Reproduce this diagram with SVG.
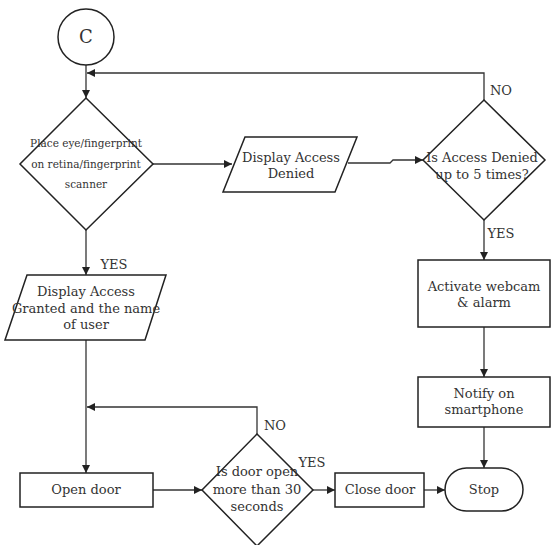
<svg xmlns="http://www.w3.org/2000/svg" width="551" height="545" viewBox="0 0 551 545">
<defs>
<marker id="ah" viewBox="0 0 10 10" refX="10" refY="5" markerWidth="8" markerHeight="8" markerUnits="userSpaceOnUse" orient="auto">
<path d="M0,0 L10,5 L0,10 z" fill="#222"/>
</marker>
</defs>
<style>
.n{fill:#fff;stroke:#222;stroke-width:1.5}
.c{fill:none;stroke:#333;stroke-width:1.3;marker-end:url(#ah)}
.l{fill:none;stroke:#333;stroke-width:1.3}
text{font-family:"DejaVu Serif","Liberation Serif",serif;font-size:13px;fill:#333;text-anchor:middle}
.s{font-size:10.5px}
</style>
<rect width="551" height="545" fill="#fff"/>
<g id="connectors">
<path class="c" d="M86,65 V98"/>
<path class="c" d="M484,100 V73 H87"/>
<path class="c" d="M153,164 H232"/>
<path class="c" d="M348,163 H390 L393,160 H423"/>
<path class="c" d="M484,220 V260"/>
<path class="c" d="M484,327 V377"/>
<path class="c" d="M484,427 V468"/>
<path class="c" d="M86,230 V275"/>
<path class="c" d="M86,340 V473"/>
<path class="c" d="M257,434 V407 H87"/>
<path class="c" d="M153,490 H202"/>
<path class="c" d="M313,490 H335"/>
<path class="c" d="M424,490 H445"/>
<text x="501" y="95">NO</text>
<text x="501" y="238">YES</text>
<text x="114" y="269">YES</text>
<text x="275" y="430">NO</text>
<text x="312" y="467">YES</text>
</g>
<g id="start">
<circle class="n" cx="86" cy="37" r="28"/>
<text x="86" y="43" style="font-size:18px">C</text>
</g>
<g id="scan">
<polygon class="n" points="86,98 153,164 86,230 20,164"/>
<text class="s" x="86" y="147">Place eye/fingerprint</text>
<text class="s" x="86" y="168">on retina/fingerprint</text>
<text class="s" x="86" y="188">scanner</text>
</g>
<g id="denied">
<polygon class="n" points="245,137 357,137 335,192 223,192"/>
<text x="291" y="162">Display Access</text>
<text x="291" y="178">Denied</text>
</g>
<g id="count">
<polygon class="n" points="484,100 545,160 484,220 423,160"/>
<text x="482" y="162">Is Access Denied</text>
<text x="482" y="179">up to 5 times?</text>
</g>
<g id="webcam">
<rect class="n" x="418" y="260" width="132" height="67"/>
<text x="484" y="291">Activate webcam</text>
<text x="484" y="307">&amp; alarm</text>
</g>
<g id="notify">
<rect class="n" x="418" y="377" width="132" height="50"/>
<text x="484" y="398">Notify on</text>
<text x="484" y="414">smartphone</text>
</g>
<g id="granted">
<polygon class="n" points="27,275 166,275 145,340 5,340"/>
<text x="86" y="296">Display Access</text>
<text x="86" y="313">Granted and the name</text>
<text x="86" y="329">of user</text>
</g>
<g id="open">
<rect class="n" x="20" y="473" width="133" height="34"/>
<text x="86" y="494">Open door</text>
</g>
<g id="door">
<polygon class="n" points="257,434 313,490 257,546 202,490"/>
<text x="257" y="476">Is door open</text>
<text x="257" y="494">more than 30</text>
<text x="257" y="511">seconds</text>
</g>
<g id="close">
<rect class="n" x="335" y="473" width="89" height="34"/>
<text x="380" y="494">Close door</text>
</g>
<g id="stop">
<rect class="n" x="445" y="468" width="78" height="43" rx="21.5"/>
<text x="484" y="494">Stop</text>
</g>
</svg>
